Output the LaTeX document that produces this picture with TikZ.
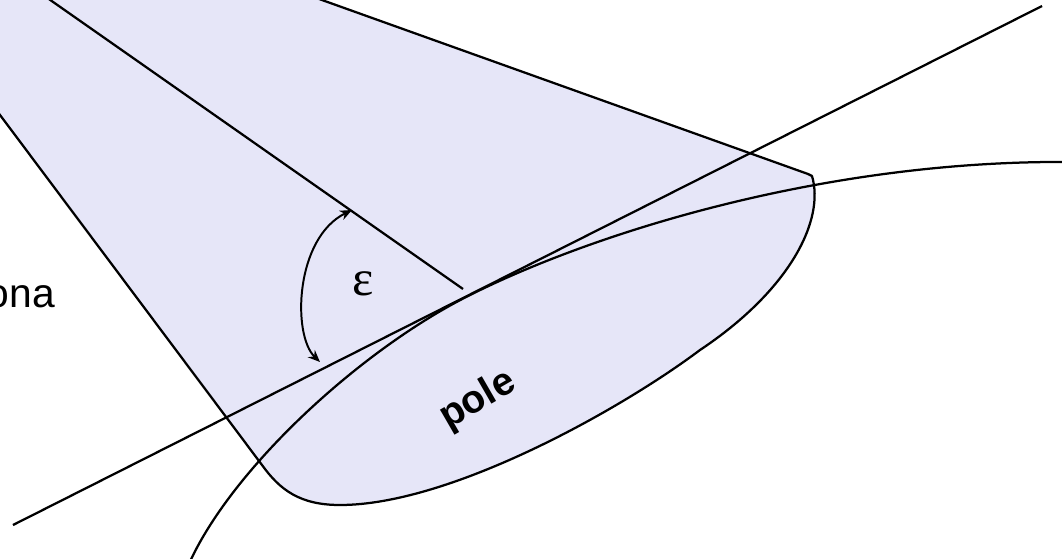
\documentclass[tikz,border=0pt]{standalone}
\usepackage{fontspec}
\setmainfont{Liberation Sans}
\newfontfamily\greekfont{Liberation Serif}
\usetikzlibrary{arrows.meta}
\definecolor{conefill}{HTML}{E6E6F8}
\definecolor{ink}{HTML}{000000}
\tikzset{
  edge/.style={draw=ink, line width=1.6pt},
  cone/.style={fill=conefill, draw=ink, line width=1.6pt, line join=round},
  angarrow/.style={{Stealth[length=3mm,width=2.5mm]}-{Stealth[length=3mm,width=2.5mm]},
                   line width=1.4pt, draw=ink},
  lbl/.style={inner sep=0pt, text=ink}
}
\begin{document}
\begin{tikzpicture}[x=0.025cm, y=-0.025cm]
  \useasboundingbox (0,0) rectangle (1062,558);

  % cone of view with the pole cap
  \path[cone] (-10,101.6) -- (-10,-10) -- (294,-10) -- (808,174) -- (812,176)
      .. controls (825,220) and (790,290) .. (700,350)
      .. controls (620,410) and (450,505) .. (340,505)
      .. controls (300,505) and (280,490) .. (262,465) -- cycle;

  % axis, tangent line and limb
  \draw[edge] (36,-10) -- (463,289);
  \draw[edge] (13,525) -- (1042,6);
  \draw[edge] (188,566) .. controls (230,470) and (360,350) .. (470,295)
      .. controls (600,230) and (830,160) .. (1070,162);

  % angle
  \coordinate (epstop) at (352,210);
  \coordinate (epsbot) at (320,362);
  \draw[angarrow] (epstop) .. controls (295,238) and (292,335) .. (epsbot);
  \node[lbl, anchor=base, font=\greekfont\fontsize{36}{40}\selectfont] (eps) at (363,295) {ε};

  % labels
  \node[lbl, rotate=30, font=\bfseries\fontsize{28}{32}\selectfont] (pole) at (478,400) {pole};
  \node[lbl, anchor=base east, font=\fontsize{29}{33}\selectfont] (zona) at (55,307) {ona};
\end{tikzpicture}
\end{document}
